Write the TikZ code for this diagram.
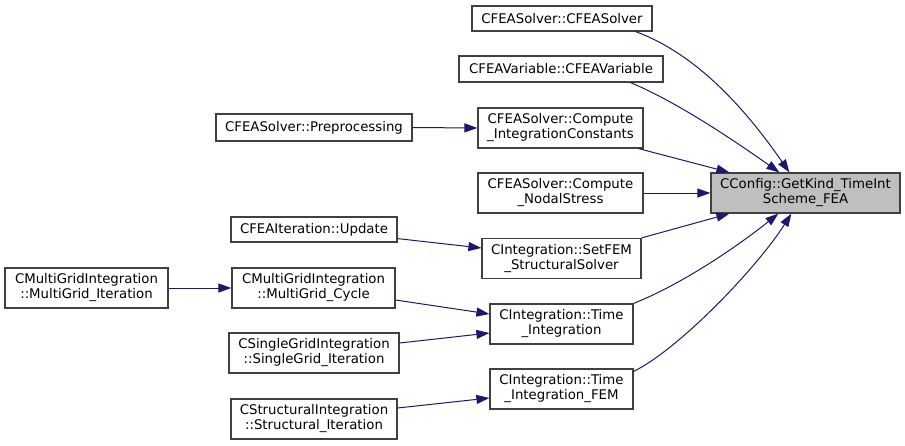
\documentclass[tikz,border=0pt]{standalone}
\usepackage{fontspec}
\setmainfont{DejaVu Sans}
\usetikzlibrary{arrows.meta}
\definecolor{edgec}{HTML}{191970}
\definecolor{boxc}{HTML}{404040}
\definecolor{hilite}{HTML}{BFBFBF}
\begin{document}
\begin{tikzpicture}[x=1pt,y=-1pt,
  box/.style={draw=boxc,line width=1.2pt,fill=white,inner sep=0pt,align=center,
    font=\fontsize{13.3}{15}\selectfont},
  edge/.style={draw=edgec,line width=1pt,-{Triangle[length=13pt,width=9pt]}}]
\useasboundingbox (0,0) rectangle (905,445);
% nodes
\node[box,minimum width=180pt,minimum height=25pt] (s1) at (562,18.5) {CFEASolver::CFEASolver};
\node[box,minimum width=204pt,minimum height=26pt] (s2) at (561,69) {CFEAVariable::CFEAVariable};
\node[box,minimum width=165pt,minimum height=40pt] (s3) at (560.5,128) {CFEASolver::Compute\\\_IntegrationConstants};
\node[box,minimum width=165pt,minimum height=40pt] (s4) at (560.5,193) {CFEASolver::Compute\\\_NodalStress};
\node[box,fill=hilite,minimum width=189pt,minimum height=40pt] (cfg) at (805.5,193) {CConfig::GetKind\_TimeInt\\Scheme\_FEA};
\node[box,minimum width=196pt,minimum height=27pt] (pre) at (314,127.5) {CFEASolver::Preprocessing};
\node[box,minimum width=166pt,minimum height=25pt] (upd) at (314,229.5) {CFEAIteration::Update};
\node[box,minimum width=159pt,minimum height=40pt] (setfem) at (561.5,258.5) {CIntegration::SetFEM\\\_StructuralSolver};
\node[box,minimum width=143pt,minimum height=40pt] (ti) at (561.5,324) {CIntegration::Time\\\_Integration};
\node[box,minimum width=143pt,minimum height=40pt] (tif) at (561.5,389) {CIntegration::Time\\\_Integration\_FEM};
\node[box,minimum width=163pt,minimum height=40pt] (mgi) at (86.5,288) {CMultiGridIntegration\\::MultiGrid\_Iteration};
\node[box,minimum width=163pt,minimum height=40pt] (mgc) at (313.5,288) {CMultiGridIntegration\\::MultiGrid\_Cycle};
\node[box,minimum width=170pt,minimum height=40pt] (sgi) at (314,353) {CSingleGridIntegration\\::SingleGrid\_Iteration};
\node[box,minimum width=166pt,minimum height=40pt] (sti) at (314,419) {CStructuralIntegration\\::Structural\_Iteration};
% edges into cfg
\draw[edge] ([xshift=-17pt]s1.south east) .. controls +(60,22) and +(-45,-65) .. ([xshift=79pt]cfg.north west);
\draw[edge] ([xshift=-33pt]s2.south east) .. controls +(50,21) and +(-40,-28) .. ([xshift=69pt]cfg.north west);
\draw[edge] ([xshift=-5pt]s3.south east) -- ([xshift=19pt]cfg.north west);
\draw[edge] (s4.east) -- (cfg.west);
\draw[edge] (setfem.north east) -- ([xshift=19pt]cfg.south west);
\draw[edge] (ti.north east) .. controls +(50,-20) and +(-40,32) .. ([xshift=68pt]cfg.south west);
\draw[edge] ([yshift=-3pt]tif.north east) .. controls +(45,-22) and +(-35,55) .. ([xshift=81pt]cfg.south west);
% other edges
\draw[edge] (pre.east) -- (s3.west);
\draw[edge] ([yshift=4pt]upd.south east) -- ([yshift=10.5pt]setfem.west);
\draw[edge] (mgi.east) -- (mgc.west);
\draw[edge] ([yshift=-12pt]mgc.east) -- ([yshift=10pt]ti.west);
\draw[edge] ([yshift=10pt]sgi.east) -- ([yshift=-9pt]ti.west);
\draw[edge] ([yshift=11pt]sti.east) -- ([yshift=-9pt]tif.west);
\end{tikzpicture}
\end{document}
